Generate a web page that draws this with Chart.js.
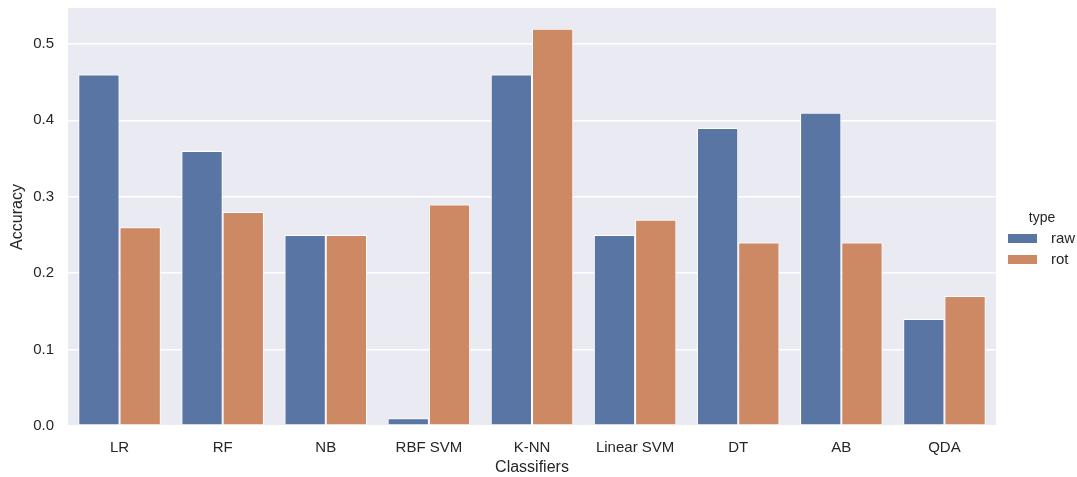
<!DOCTYPE html>
<html>
<head>
<meta charset="utf-8">
<script src="https://cdn.jsdelivr.net/npm/chart.js@4/dist/chart.umd.min.js"></script>
<style>
  html, body { margin: 0; padding: 0; background: #ffffff; }
  #wrap { width: 1077px; height: 477px; position: relative; }
</style>
</head>
<body>
<div id="wrap"><canvas id="chart" width="1077" height="477"></canvas></div>
<script>
// Classifier accuracy on raw vs. rotated inputs
const classifiers = ["LR", "RF", "NB", "RBF SVM", "K-NN", "Linear SVM", "DT", "AB", "QDA"];
const rawAccuracy = [0.46, 0.36, 0.25, 0.01, 0.46, 0.25, 0.39, 0.41, 0.14];
const rotAccuracy = [0.26, 0.28, 0.25, 0.29, 0.52, 0.27, 0.24, 0.24, 0.17];
const yTicks = [0.0, 0.1, 0.2, 0.3, 0.4, 0.5];
const seriesNames = ["raw", "rot"];
const legendTitle = "type";

const FONT = "'Liberation Sans', Arial, 'DejaVu Sans', sans-serif";
const TEXT = "#262626";

// shaded plotting area behind the bars
const panelBackground = {
  id: "panelBackground",
  beforeDraw(chart) {
    const { ctx, chartArea: a } = chart;
    ctx.save();
    ctx.fillStyle = "#EAEAF2";
    ctx.fillRect(a.left, a.top, a.right - a.left, a.bottom - a.top);
    ctx.restore();
  }
};

// legend placed to the right of the panel, with a title
const sideLegend = {
  id: "sideLegend",
  afterDraw(chart) {
    const { ctx } = chart;
    ctx.save();
    ctx.font = "14px " + FONT;
    ctx.fillStyle = TEXT;
    ctx.textAlign = "center";
    ctx.textBaseline = "middle";
    ctx.fillText(legendTitle, 1042, 218);
    chart.data.datasets.forEach((ds, i) => {
      const y = 238 + i * 21;
      ctx.fillStyle = ds.backgroundColor;
      ctx.fillRect(1008, y - 4, 29, 9);
      ctx.fillStyle = TEXT;
      ctx.textAlign = "left";
      ctx.font = "15px " + FONT;
      ctx.fillText(ds.label, 1051, y + 1);
    });
    ctx.restore();
  }
};

new Chart(document.getElementById("chart"), {
  type: "bar",
  data: {
    labels: classifiers,
    datasets: [
      { label: seriesNames[0], data: rawAccuracy, backgroundColor: "#5975A4", borderColor: "#ffffff", borderWidth: 1, borderSkipped: false },
      { label: seriesNames[1], data: rotAccuracy, backgroundColor: "#CC8963", borderColor: "#ffffff", borderWidth: 1, borderSkipped: false }
    ]
  },
  options: {
    responsive: false,
    animation: false,
    layout: { padding: { left: 0, top: 8, right: 81, bottom: 0 } },
    datasets: { bar: { barPercentage: 1.0, categoryPercentage: 0.8 } },
    plugins: {
      legend: { display: false },
      tooltip: { enabled: false }
    },
    scales: {
      x: {
        grid: { display: false, drawTicks: false },
        border: { display: false },
        ticks: { color: TEXT, font: { family: FONT, size: 15 }, padding: 13 },
        title: { display: true, text: "Classifiers", color: TEXT, font: { family: FONT, size: 16 }, padding: { top: 1, bottom: 0 } },
        afterFit(scale) { scale.height = 51; scale.paddingLeft = 0; scale.paddingRight = 0; }
      },
      y: {
        min: 0,
        max: 0.547,
        grid: { color: "#ffffff", lineWidth: 1.5, drawTicks: false },
        border: { display: false },
        ticks: {
          color: TEXT,
          font: { family: FONT, size: 15 },
          padding: 14,
          callback: v => Number(v).toFixed(1)
        },
        afterBuildTicks(scale) { scale.ticks = yTicks.map(v => ({ value: v })); },
        title: { display: true, text: "Accuracy", color: TEXT, font: { family: FONT, size: 16 }, padding: { top: 8, bottom: 0 } },
        afterFit(scale) { scale.width = 68; scale.paddingTop = 0; scale.paddingBottom = 0; }
      }
    }
  },
  plugins: [panelBackground, sideLegend]
});
</script>
</body>
</html>
